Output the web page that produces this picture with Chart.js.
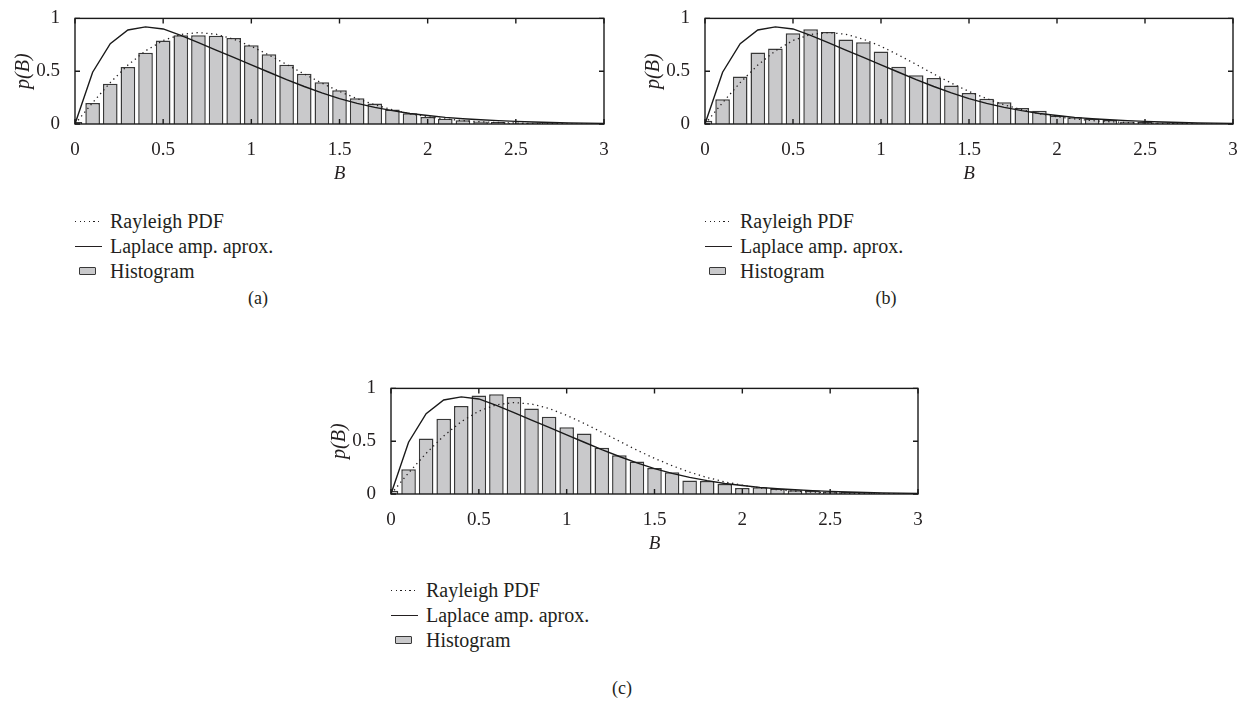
<!DOCTYPE html>
<html>
<head>
<meta charset="utf-8">
<script src="https://cdn.jsdelivr.net/npm/chart.js@4.4.1/dist/chart.umd.min.js"></script>
<style>
  body { margin: 0; background: #fff; width: 1245px; height: 706px; position: relative; overflow: hidden;
         font-family: 'Liberation Serif', serif; color: #231f20; }
  canvas { position: absolute; }
  .legend { position: absolute; font-size: 20px; line-height: 25px; }
  .legend div { position: relative; padding-left: 35px; white-space: nowrap; }
  .legend .sw { position: absolute; left: 0; top: 12px; width: 27px; height: 1.4px; padding: 0; }
  .legend .dot { background: repeating-linear-gradient(to right, #231f20 0 1.3px, transparent 1.3px 4.6px); }
  .legend .solid { background: #231f20; }
  .legend .box { left: 4px; top: 8px; width: 15px; height: 6px; background: #c9c9cb; border: 1.6px solid #383838; border-radius: 1px; }
  .cap { position: absolute; font-size: 18px; transform: translate(-50%, -50%); }
</style>
</head>
<body>
<canvas id="chartA" width="620" height="190" style="left:0px;top:0px"></canvas>
<canvas id="chartB" width="615" height="190" style="left:630px;top:0px"></canvas>
<canvas id="chartC" width="620" height="190" style="left:316px;top:370px"></canvas>

<div class="legend" style="left:75px;top:209px">
  <div><span class="sw dot"></span>Rayleigh PDF</div>
  <div><span class="sw solid"></span>Laplace amp. aprox.</div>
  <div><span class="sw box"></span>Histogram</div>
</div>
<div class="legend" style="left:705px;top:209px">
  <div><span class="sw dot"></span>Rayleigh PDF</div>
  <div><span class="sw solid"></span>Laplace amp. aprox.</div>
  <div><span class="sw box"></span>Histogram</div>
</div>
<div class="legend" style="left:391px;top:578px">
  <div><span class="sw dot"></span>Rayleigh PDF</div>
  <div><span class="sw solid"></span>Laplace amp. aprox.</div>
  <div><span class="sw box"></span>Histogram</div>
</div>
<div class="cap" style="left:258px;top:298px">(a)</div>
<div class="cap" style="left:886px;top:298px">(b)</div>
<div class="cap" style="left:622px;top:688px">(c)</div>

<script>
// bin centres of the histograms (B)
const bins = [0, 0.1, 0.2, 0.3, 0.4, 0.5, 0.6, 0.7, 0.8, 0.9, 1.0,
              1.1, 1.2, 1.3, 1.4, 1.5, 1.6, 1.7, 1.8, 1.9, 2.0,
              2.1, 2.2, 2.3, 2.4, 2.5, 2.6, 2.7, 2.8, 2.9, 3.0];

const histA = [0.02, 0.2, 0.38, 0.54, 0.675, 0.79, 0.84, 0.84, 0.835, 0.815, 0.745,
               0.66, 0.56, 0.475, 0.395, 0.32, 0.243, 0.193, 0.137, 0.102, 0.067,
               0.05, 0.035, 0.023, 0.018, 0.012, 0.009, 0.006, 0.004, 0.003, 0.002];
const histB = [0.03, 0.234, 0.45, 0.678, 0.716, 0.86, 0.898, 0.871, 0.801, 0.775, 0.687,
               0.541, 0.462, 0.436, 0.365, 0.293, 0.24, 0.205, 0.152, 0.126, 0.079,
               0.064, 0.05, 0.038, 0.023, 0.02, 0.015, 0.01, 0.007, 0.005, 0.003];
const histC = [0.03, 0.234, 0.526, 0.713, 0.833, 0.933, 0.944, 0.918, 0.81, 0.731, 0.632,
               0.573, 0.439, 0.368, 0.308, 0.246, 0.205, 0.129, 0.123, 0.094, 0.058,
               0.064, 0.05, 0.035, 0.032, 0.023, 0.018, 0.012, 0.008, 0.006, 0.004];

// dotted curve
const rayleighAB = [0, 0.202, 0.392, 0.558, 0.693, 0.791, 0.848, 0.866, 0.85, 0.803, 0.736,
                    0.653, 0.564, 0.473, 0.387, 0.308, 0.24, 0.182, 0.135, 0.097, 0.069,
                    0.048, 0.032, 0.021, 0.014, 0.009, 0.005, 0.003, 0.002, 0.001, 0.001];
const rayleighC = [0, 0.2, 0.385, 0.55, 0.685, 0.785, 0.845, 0.866, 0.852, 0.81, 0.745,
                   0.668, 0.585, 0.5, 0.415, 0.338, 0.268, 0.207, 0.156, 0.115, 0.083,
                   0.058, 0.04, 0.027, 0.018, 0.012, 0.007, 0.005, 0.003, 0.002, 0.001];

// solid curve
const laplace = [0, 0.49, 0.76, 0.89, 0.92, 0.9, 0.84, 0.77, 0.7, 0.63, 0.56,
                 0.49, 0.42, 0.355, 0.295, 0.24, 0.195, 0.158, 0.127, 0.1, 0.08,
                 0.063, 0.05, 0.04, 0.032, 0.025, 0.019, 0.014, 0.011, 0.008, 0.006];

const ink = '#231f20';
const serif = 'Liberation Serif';

// matlab style frame with ticks pointing inwards
const boxPlugin = {
  id: 'box',
  afterDatasetsDraw(chart) {
    const { ctx, chartArea: a, scales: { x, y } } = chart;
    ctx.save();
    ctx.strokeStyle = '#1a1a1a';
    ctx.lineWidth = 1.4;
    ctx.strokeRect(a.left, a.top, a.right - a.left, a.bottom - a.top);
    ctx.beginPath();
    x.ticks.forEach(t => {
      const px = x.getPixelForValue(t.value);
      ctx.moveTo(px, a.bottom); ctx.lineTo(px, a.bottom - 5);
      ctx.moveTo(px, a.top); ctx.lineTo(px, a.top + 5);
    });
    y.ticks.forEach(t => {
      const py = y.getPixelForValue(t.value);
      ctx.moveTo(a.left, py); ctx.lineTo(a.left + 5, py);
      ctx.moveTo(a.right, py); ctx.lineTo(a.right - 5, py);
    });
    ctx.stroke();
    ctx.restore();
  }
};

const pts = vals => bins.map((b, i) => ({ x: b, y: vals[i] }));
const fmt = v => String(+Number(v).toFixed(1));

function makeChart(id, hist, rayleigh, padRight) {
  new Chart(document.getElementById(id), {
    type: 'bar',
    data: {
      datasets: [
        { type: 'line', label: 'Rayleigh PDF', data: pts(rayleigh), borderColor: ink, borderWidth: 1.3,
          borderDash: [1.3, 3.6], pointRadius: 0, tension: 0, order: 1 },
        { type: 'line', label: 'Laplace amp. aprox.', data: pts(laplace), borderColor: '#1a1a1a', borderWidth: 1.4,
          pointRadius: 0, tension: 0, order: 2 },
        { type: 'bar', label: 'Histogram', data: pts(hist), backgroundColor: '#c9c9cb', borderColor: '#383838',
          borderWidth: 1.5, categoryPercentage: 1, barPercentage: 0.83, clip: 0, order: 3 }
      ]
    },
    options: {
      responsive: false,
      animation: false,
      devicePixelRatio: 1,
      layout: { padding: { top: 10, right: padRight, left: 0, bottom: 0 } },
      plugins: { legend: { display: false }, tooltip: { enabled: false } },
      scales: {
        x: {
          type: 'linear', min: 0, max: 3, offset: false,
          grid: { display: false }, border: { display: false },
          ticks: { stepSize: 0.5, autoSkip: false, maxRotation: 0, padding: 7, color: ink,
                   font: { family: serif, size: 19 }, callback: fmt },
          title: { display: true, text: 'B', color: ink, font: { family: serif, size: 19, style: 'italic' },
                   padding: { top: 0, bottom: 5 } },
          afterFit(s) { s.height = 66; }
        },
        y: {
          min: 0, max: 1,
          grid: { display: false }, border: { display: false },
          ticks: { stepSize: 0.5, padding: 7, color: ink, font: { family: serif, size: 19 }, callback: fmt },
          title: { display: true, text: 'p(B)', color: ink, font: { family: serif, size: 20, style: 'italic' },
                   padding: { top: 12, bottom: 0 } },
          afterFit(s) { s.width = 75; }
        }
      }
    },
    plugins: [boxPlugin]
  });
}

makeChart('chartA', histA, rayleighAB, 16);
makeChart('chartB', histB, rayleighAB, 12);
makeChart('chartC', histC, rayleighC, 18);
</script>
</body>
</html>
